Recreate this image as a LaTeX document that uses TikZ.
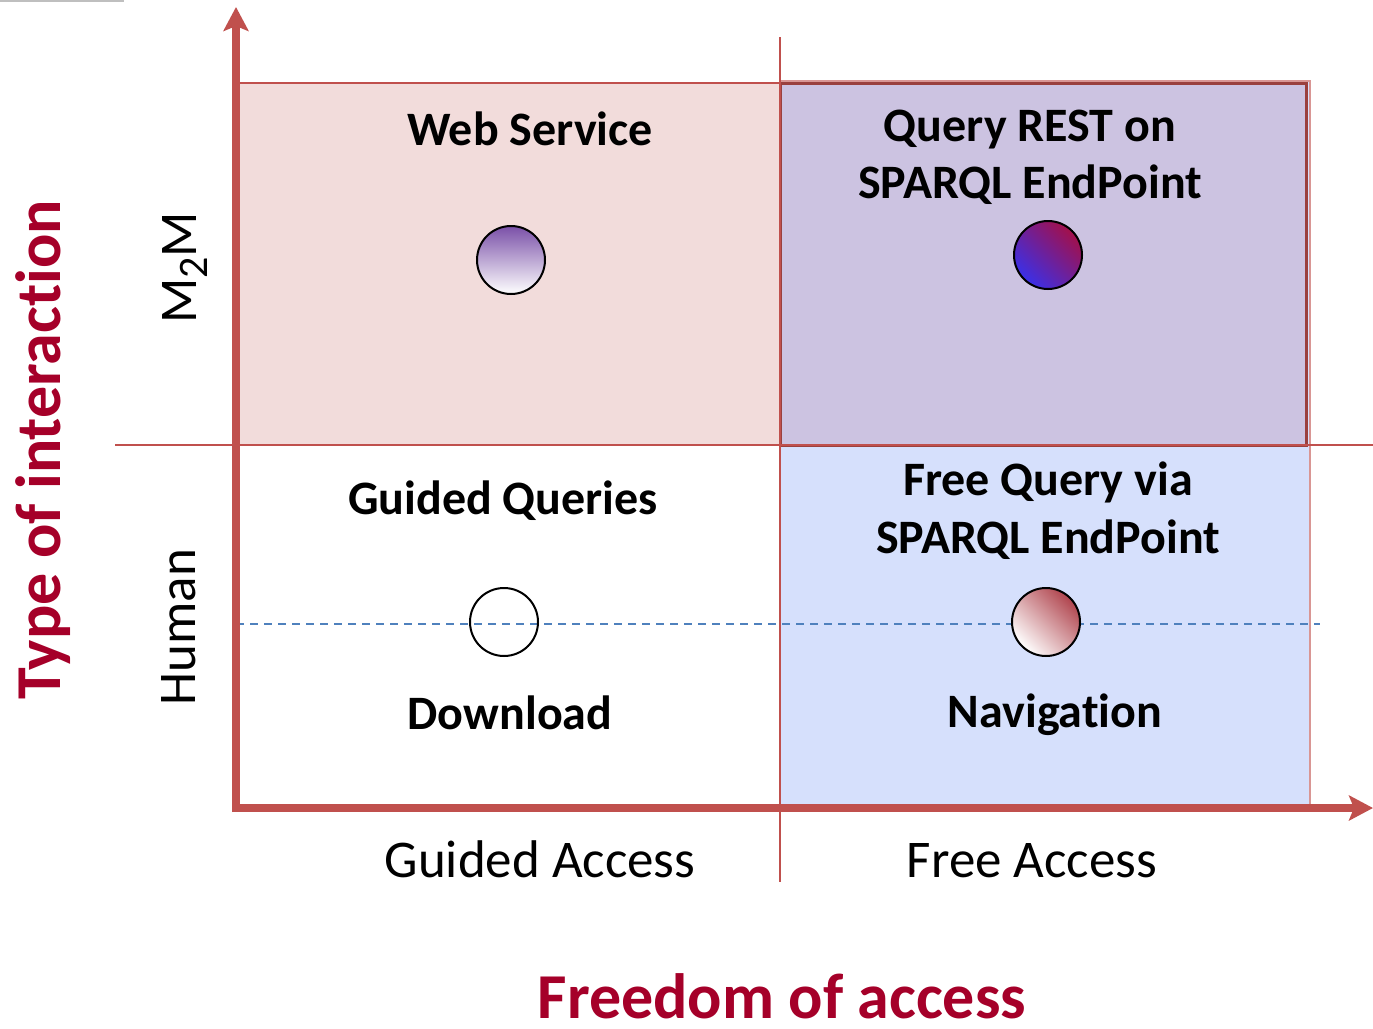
\documentclass[tikz,border=0pt]{standalone}
\usepackage{fontspec}
\setmainfont{Carlito}[Ligatures=NoCommon]
\usetikzlibrary{arrows.meta}
\definecolor{axred}{HTML}{C0504D}
\definecolor{pinkfill}{HTML}{F2DCDB}
\definecolor{lavfill}{HTML}{CCC3E1}
\definecolor{bluefill}{HTML}{D6E0FC}
\definecolor{dashblue}{HTML}{4F81BD}
\definecolor{titlered}{HTML}{A50029}
\definecolor{purpletop}{HTML}{7A50A8}
\definecolor{restred}{HTML}{A3104A}
\definecolor{restblue}{HTML}{3A30E8}
\definecolor{navred}{HTML}{B0454E}
\begin{document}
\begin{tikzpicture}[x=1pt,y=-1pt,
  quadlabel/.style={font=\fontsize{48}{56}\selectfont\bfseries, anchor=base, inner sep=0pt},
  axlabel/.style={font=\fontsize{53}{60}\selectfont, anchor=base, inner sep=0pt},
  titlelabel/.style={font=\fontsize{64}{70}\selectfont\bfseries, text=titlered, anchor=base, inner sep=0pt},
  dot/.style={circle, draw=black, line width=2pt, minimum size=68pt, inner sep=0pt},
  axis/.style={draw=axred, line width=8pt},
  gridline/.style={draw=axred, line width=1.5pt}]
\useasboundingbox (0,0) rectangle (1373,1028);
% small grey artefact at top-left
\draw[black!25, line width=1.5pt] (0,1) -- (123,1) -- (123,0);
% quadrant fills
\fill[pinkfill] (236,83) rectangle (780,445);
\draw[gridline] (236,83) -- (780,83);
\filldraw[fill=bluefill, draw=axred!60, line width=1.5pt] (780,81) rectangle (1310,806);
\filldraw[fill=lavfill, draw=axred!80!black, line width=3pt] (780,83) rectangle (1306,445);
% grid lines
\coordinate (vtop) at (780,37);
\coordinate (vbot) at (780,882);
\coordinate (hleft) at (115,445);
\coordinate (hright) at (1373,445);
\draw[gridline] (vtop) -- (vbot);
\draw[gridline] (hleft) -- (hright);
% dashed line
\coordinate (dl) at (236,624);
\coordinate (dr) at (1320,624);
\draw[dashblue, line width=1.8pt, dash pattern=on 8pt off 6pt] (dl) -- (dr);
% circles
\node[dot, top color=purpletop, bottom color=white] (ws) at (511,260) {};
\node[dot, shading=axis, top color=restred, bottom color=restblue, shading angle=-45] (rest) at (1048,255) {};
\node[dot, fill=none] (dl1) at (504,622) {};
\node[dot, shading=axis, top color=navred, bottom color=white, shading angle=-45] (nav) at (1046,622) {};
% axes
\coordinate (O) at (236,812);
\coordinate (ytip) at (236,7);
\coordinate (xs) at (232,808);
\coordinate (xtip) at (1373,808);
\draw[axis, -{Stealth[length=24pt,width=25pt,inset=5pt]}] (O) -- (ytip);
\draw[axis, -{Stealth[length=24pt,width=25pt,inset=5pt]}] (xs) -- (xtip);
% quadrant texts
\node[quadlabel] (t1) at (530,145) {Web Service};
\node[quadlabel] (t2a) at (1030,141) {Query REST on};
\node[quadlabel] (t2b) at (1030,198) {SPARQL EndPoint};
\node[quadlabel] (t3) at (503,514) {Guided Queries};
\node[quadlabel] (t4a) at (1048,495) {Free Query via};
\node[quadlabel] (t4b) at (1048,553) {SPARQL EndPoint};
\node[quadlabel] (t5) at (510,729) {Download};
\node[quadlabel] (t6) at (1055,727) {Navigation};
% axis labels
\node[axlabel] (ga) at (540,877) {Guided Access};
\node[axlabel] (fa) at (1032,877) {Free Access};
\node[axlabel, rotate=90] (m2m) at (196,268) {M\raisebox{-11pt}{\fontsize{42}{42}\selectfont 2}M};
\node[axlabel, rotate=90] (hum) at (195,627) {Human};
% titles
\node[titlelabel] (fx) at (782,1018) {Freedom of access};
\node[titlelabel, rotate=90] (ty) at (60,450) {Type of interaction};
\end{tikzpicture}
\end{document}
